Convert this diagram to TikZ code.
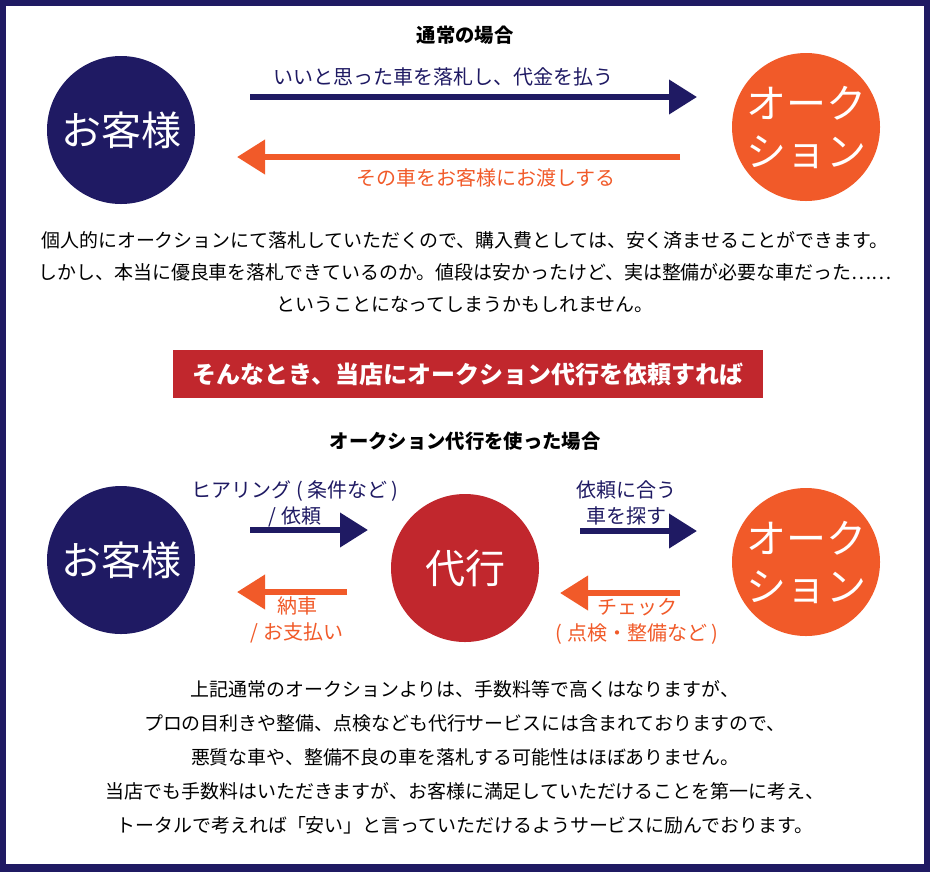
\documentclass[tikz,border=0pt]{standalone}
\usepackage{fontspec}
\setmainfont{Noto Sans CJK JP}
\usetikzlibrary{arrows.meta, positioning}
\definecolor{navy}{HTML}{1F1A63}
\definecolor{auction}{HTML}{F15A29}
\definecolor{agent}{HTML}{C1272D}
\tikzset{
x=0.75pt, y=-0.75pt, % one unit is one pixel of the reference
party/.style={circle, minimum size=111pt, inner sep=0pt, text=white, align=center,
  font=\fontsize{30}{36}\selectfont}, % the round actors
flow/.style={line width=4.5pt, -{Triangle[length=21pt, width=25pt]}}, % thick arrows
label/.style={font=\fontsize{15}{19.5}\selectfont, align=center, inner sep=0pt},
heading/.style={font=\bfseries\fontsize{14.5}{16}\selectfont, inner sep=0pt},
body/.style={font=\fontsize{14.2}{24}\selectfont, align=center, inner sep=0pt},
}
\begin{document}
\begin{tikzpicture}
\useasboundingbox (0,0) rectangle (930,872);
\fill[white] (0,0) rectangle (930,872);
\fill[navy] (0,0) rectangle (930,872);
\fill[white] (6,6) rectangle (924,864);

% the usual case
\node[heading] (title1) at (465,35) {通常の場合};
\node[party, fill=navy] (cust1) at (121,130) {お客様};
\node[party, fill=auction] (auc1) at (806,127) {オーク\\ション};
\coordinate (a1s) at (250,97);
\coordinate (a1e) at (697,97);
\coordinate (a2s) at (680,157);
\coordinate (a2e) at (237,157);
\draw[flow, navy] (a1s) -- (a1e);
\draw[flow, auction] (a2s) -- (a2e);
\node[label, text=navy] (pay) at (443,77) {いいと思った車を落札し、代金を払う};
\node[label, text=auction] (hand) at (486,178) {その車をお客様にお渡しする};
\node[body] (text1) at (465,272) {個人的にオークションにて落札していただくので、購入費としては、安く済ませることができます。\\
しかし、本当に優良車を落札できているのか。値段は安かったけど、実は整備が必要な車だった……\\
ということになってしまうかもしれません。};

% banner
\node[fill=agent, text=white, minimum width=442.5pt, minimum height=36pt, inner sep=0pt,
  font=\bfseries\fontsize{18}{20}\selectfont] (banner) at (468,374) {そんなとき、当店にオークション代行を依頼すれば};

% the case with the agent
\node[heading] (title2) at (465,441) {オークション代行を使った場合};
\node[party, fill=navy] (cust2) at (121,560) {お客様};
\node[party, fill=agent] (agent) at (465,568) {代行};
\node[party, fill=auction] (auc2) at (806,562) {オーク\\ション};
\coordinate (b1s) at (250,530);
\coordinate (b1e) at (368,530);
\coordinate (b2s) at (347,592);
\coordinate (b2e) at (237,592);
\coordinate (b3s) at (580,531);
\coordinate (b3e) at (697,531);
\coordinate (b4s) at (680,593);
\coordinate (b4e) at (560,593);
\draw[flow, navy] (b1s) -- (b1e);
\draw[flow, auction] (b2s) -- (b2e);
\draw[flow, navy] (b3s) -- (b3e);
\draw[flow, auction] (b4s) -- (b4e);
\node[label, text=navy] (hear) at (295,504) {ヒアリング ( 条件など )\\/ 依頼};
\node[label, text=auction] (deliver) at (297,620) {納車\\/ お支払い};
\node[label, text=navy] (search) at (626,503) {依頼に合う\\車を探す};
\node[label, text=auction] (check) at (637,621) {チェック\\( 点検・整備など )};
\node[body, font=\fontsize{14.2}{25.5}\selectfont] (text2) at (465,757) {上記通常のオークションよりは、手数料等で高くはなりますが、\\
プロの目利きや整備、点検なども代行サービスには含まれておりますので、\\
悪質な車や、整備不良の車を落札する可能性はほぼありません。\\
当店でも手数料はいただきますが、お客様に満足していただけることを第一に考え、\\
トータルで考えれば「安い」と言っていただけるようサービスに励んでおります。};
\end{tikzpicture}
\end{document}
